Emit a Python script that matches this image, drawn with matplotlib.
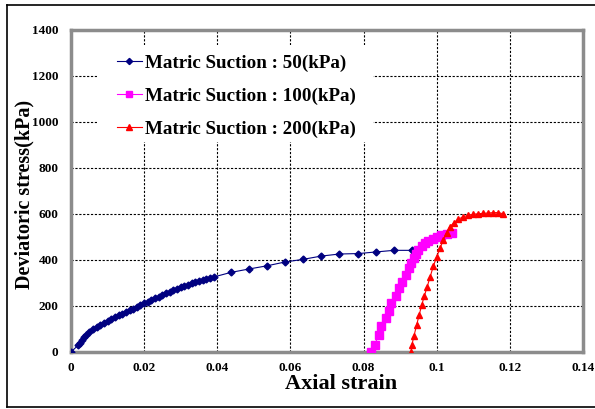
import matplotlib.pyplot as plt
from matplotlib.lines import Line2D
from matplotlib.patches import Rectangle

plt.rcParams['font.family'] = ['Liberation Serif', 'DejaVu Serif']
plt.rcParams['font.weight'] = 'bold'

# matric suction 50 kPa
strain_50 = [0.0, 0.002, 0.0025, 0.003, 0.0035, 0.004, 0.005, 0.006, 0.007, 0.008,
             0.009, 0.010, 0.011, 0.012, 0.013, 0.014, 0.015, 0.016, 0.017, 0.018,
             0.019, 0.020, 0.021, 0.022, 0.023, 0.024, 0.025, 0.026, 0.027, 0.028,
             0.029, 0.030, 0.031, 0.032, 0.033, 0.034, 0.035, 0.036, 0.037, 0.038,
             0.039, 0.0437, 0.0487, 0.0537, 0.0584, 0.0635, 0.0684, 0.0734, 0.0786,
             0.0834, 0.0883, 0.0932, 0.0952]
stress_50 = [0, 30, 40, 52, 65, 72, 86, 98, 109, 119,
             128, 136, 144, 152, 160, 167, 174, 181, 189, 197,
             205, 212, 219, 227, 234, 241, 248, 255, 262, 268,
             275, 281, 287, 293, 298, 303, 308, 313, 318, 322,
             326, 346, 361, 375, 391, 403, 417, 426, 428,
             435, 442, 442, 446]

# matric suction 100 kPa
strain_100 = [0.0820, 0.0830, 0.0841, 0.0849, 0.0860, 0.0869, 0.0876, 0.0888, 0.0897,
              0.0906, 0.0917, 0.0924, 0.0931, 0.0937, 0.0944, 0.0950, 0.0959, 0.0968,
              0.0977, 0.0989, 0.1000, 0.1013, 0.1027, 0.1041]
stress_100 = [0, 29, 74, 113, 149, 180, 212, 243, 277,
              306, 335, 364, 388, 407, 426, 443, 461, 473,
              483, 491, 499, 507, 513, 519]

# matric suction 200 kPa
strain_200 = [0.0930, 0.0932, 0.0938, 0.0945, 0.0952, 0.0959, 0.0966, 0.0974, 0.0982,
              0.0991, 0.1000, 0.1009, 0.1018, 0.1027, 0.1036, 0.1047, 0.1059, 0.1072,
              0.1086, 0.1100, 0.1114, 0.1127, 0.1141, 0.1155, 0.1168, 0.1182]
stress_200 = [0, 30, 71, 117, 161, 204, 243, 284, 327,
              374, 414, 451, 487, 519, 545, 562, 577, 588,
              594, 599, 601, 603, 604, 606, 606, 601]

labels = ["Matric Suction : 50(kPa)", "Matric Suction : 100(kPa)",
          "Matric Suction : 200(kPa)"]

fig = plt.figure(figsize=(5.95, 4.09), dpi=100)
ax = fig.add_axes([71/595, 57/409, 512/595, 322/409])

# outer frame
for xs, ys in [([7/595, 1.0], [1 - 5/409, 1 - 5/409]),
               ([7/595, 7/595], [1 - 5/409, 1 - 407/409]),
               ([7/595, 1.0], [1 - 407/409, 1 - 407/409])]:
    fig.add_artist(Line2D(xs, ys, color="black", lw=1.2, transform=fig.transFigure))

ax.set_axisbelow(True)
# white box behind the legend hides the grid
ax.add_patch(Rectangle((0.051, 0.652), 0.539, 0.301, transform=ax.transAxes,
                       facecolor="white", edgecolor="none", zorder=1))

ax.plot(strain_50, stress_50, color="#000080", marker="D", markersize=3.5, lw=0.8,
        label=labels[0], zorder=3)
ax.plot(strain_100, stress_100, color="#ff00ff", marker="s", markersize=5.5, lw=0.8,
        label=labels[1], zorder=4)
ax.plot(strain_200, stress_200, color="#ff0000", marker="^", markersize=5, lw=0.8,
        label=labels[2], zorder=5)

ax.set_xlim(0, 0.14)
ax.set_ylim(0, 1400)
ax.set_xticks([0, 0.02, 0.04, 0.06, 0.08, 0.1, 0.12, 0.14])
ax.set_xticklabels(["0", "0.02", "0.04", "0.06", "0.08", "0.1", "0.12", "0.14"])
ax.set_yticks(range(0, 1401, 200))
ax.tick_params(length=0, labelsize=9.5)
ax.tick_params(axis="x", pad=7)
ax.tick_params(axis="y", pad=9)
ax.grid(True, color="black", linestyle=(0, (2, 1.5)), lw=0.8)
for s in ax.spines.values():
    s.set_color("#8c8c8c")
    s.set_linewidth(2.5)

ax.set_xlabel("Axial strain", fontsize=16, fontweight="bold")
ax.set_ylabel("Deviatoric stress(kPa)", fontsize=14.5, fontweight="bold")
ax.xaxis.set_label_coords(0.527, -0.068)
ax.yaxis.set_label_coords(-0.071, 0.488)

leg = ax.legend(loc="upper left", bbox_to_anchor=(0.09, 0.925), frameon=False,
                prop={"size": 13.7, "weight": "bold"}, handlelength=1.3,
                handletextpad=0.15, labelspacing=0.82, borderpad=0,
                borderaxespad=0, markerscale=0.9)

fig.savefig("out.png", dpi=100)
